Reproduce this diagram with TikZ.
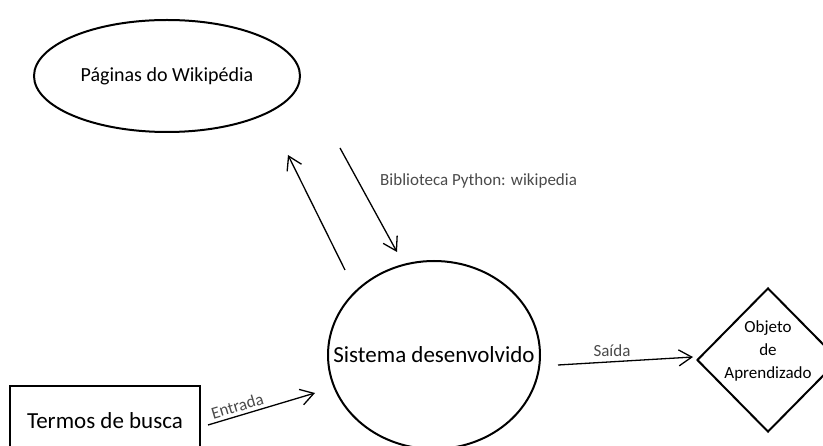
\documentclass[tikz,border=0pt]{standalone}
\usepackage{fontspec}
\setmainfont{Carlito}
\usetikzlibrary{shapes.geometric,arrows.meta,positioning}
\definecolor{notegray}{HTML}{4A4A4A}
\tikzset{
  blob/.style={draw,ellipse,line width=2pt,inner sep=0pt,font=\fontsize{20}{24}\selectfont},
  termbox/.style={draw,rectangle,line width=1.3pt,inner sep=0pt,font=\fontsize{23}{27}\selectfont},
  choice/.style={draw,diamond,line width=2pt,inner sep=0pt},
  inside/.style={align=center,inner sep=0pt,font=\fontsize{17}{23}\selectfont},
  flow/.style={-{Straight Barb[length=13pt,width=16pt]},line width=1.3pt},
  note/.style={text=notegray,font=\fontsize{17}{20}\selectfont}
}

\begin{document}
\begin{tikzpicture}[x=1pt,y=-1pt]
   \useasboundingbox (0,0) rectangle (823,446);
   \clip (0,0) rectangle (823,446);
   \node[blob,minimum width=266pt,minimum height=112pt] (wiki) at (167,76) {Páginas do Wikipédia};
   \node[blob,minimum width=212pt,minimum height=188pt,
         label={[inside,font=\fontsize{23}{27}\selectfont]center:Sistema desenvolvido}] (sis) at (434,355) {};
   \node[termbox,minimum width=190pt,minimum height=70pt] (termos) at (105,421) {Termos de busca};
   \node[choice,minimum width=142pt,minimum height=144pt,
         label={[inside,yshift=9pt]center:Objeto\\de\\Aprendizado}] (obj) at (768,360) {};
   % arrow ends
   \coordinate (upA) at (345,270);
   \coordinate (upB) at (288,155);
   \coordinate (dnA) at (340,148);
   \coordinate (dnB) at (397,252);
   \coordinate (inA) at (208,425);
   \coordinate (inB) at (315,393);
   \coordinate (outA) at (558,365);
   \coordinate (outB) at (693,357);
   \draw[flow] (upA) -- (upB);
   \draw[flow] (dnA) -- node[note,right=18pt,pos=0.32] {Biblioteca Python: wikipedia} (dnB);
   \draw[flow] (inA) -- node[note,sloped,above,pos=0.3] {Entrada} (inB);
   \draw[flow] (outA) -- node[note,above=1pt,pos=0.4] {Saída} (outB);
\end{tikzpicture}
\end{document}
